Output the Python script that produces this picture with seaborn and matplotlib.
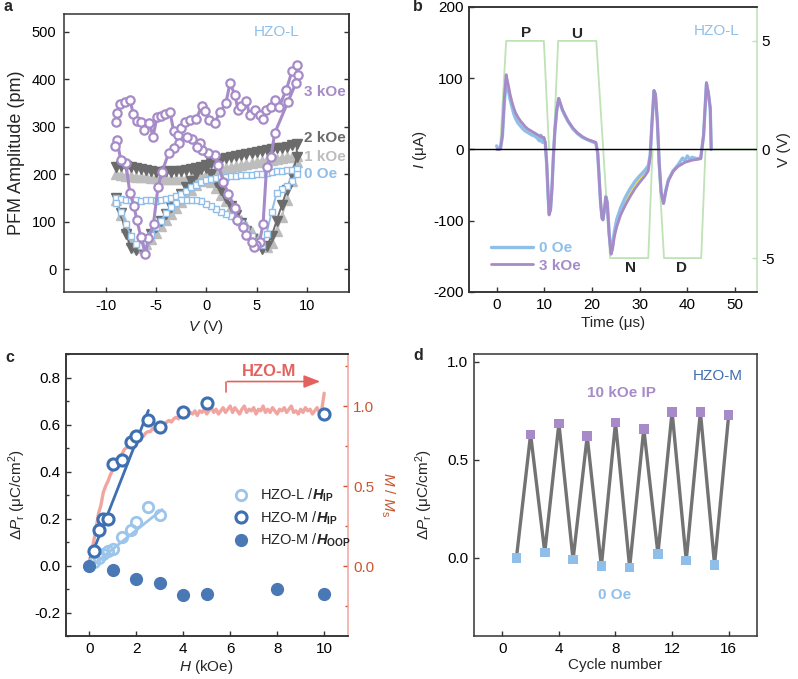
import numpy as np
import pandas as pd
import seaborn as sns
import matplotlib.pyplot as plt
from matplotlib.ticker import MultipleLocator

# ---------------- data: panel a (PFM butterfly loops, HZO-L) ----------------
v_grid = np.arange(-9, 9.01, 0.5)  # voltage sweep grid (V)

# 0 Oe (open squares): upper branch / lower branch, listed along v_grid
amp_0oe_up = [150, 147, 146, 145, 146, 144, 145, 146, 144, 146, 147, 150, 153, 158, 165, 172, 178, 183, 187,
              190, 192, 194, 194, 196, 196, 198, 198, 199, 200, 201, 203, 205, 206, 207, 208, 209, 210]
amp_0oe_low = [140, 120, 95, 70, 52, 48, 58, 72, 88, 102, 118, 130, 140, 145, 146, 146, 145, 143, 138,
               133, 127, 121, 116, 112, 106, 98, 84, 70, 58, 50, 75, 120, 160, 168, 175, 185, 200]
# 1 kOe (light gray triangles)
amp_1k_up = [200, 199, 197, 196, 195, 194, 193, 192, 191, 190, 190, 189, 189, 189, 190, 191, 193, 196, 199,
             203, 207, 210, 213, 215, 217, 219, 221, 223, 225, 227, 229, 230, 232, 233, 235, 236, 238]
amp_1k_low = [145, 115, 88, 62, 47, 44, 52, 64, 77, 90, 103, 116, 129, 142, 155, 166, 177, 186, 190,
              183, 170, 157, 143, 130, 117, 104, 91, 78, 65, 54, 47, 55, 80, 110, 145, 185, 225]
# 2 kOe (dark gray triangles)
amp_2k_up = [215, 218, 217, 214, 212, 210, 208, 206, 205, 205, 206, 205, 206, 207, 208, 210, 213, 216, 220,
             224, 228, 231, 234, 236, 238, 240, 242, 244, 246, 248, 250, 252, 254, 256, 258, 261, 264]
amp_2k_low = [150, 118, 75, 45, 40, 46, 60, 74, 88, 102, 116, 130, 144, 158, 172, 186, 200, 210, 212,
              200, 183, 166, 149, 132, 115, 98, 81, 64, 50, 43, 48, 70, 102, 134, 166, 198, 235]
# 3 kOe (open circles), in measuring order
v_3k = [-9.0, -8.9, -8.55, -8.05, -7.6, -7.25, -6.9, -6.45, -6.15, -5.65, -5.3, -4.9, -4.5, -4.1, -3.6,
        -3.25, -2.85, -2.5, -2.1, -1.6, -1.0, -0.45, -0.15, 0.3, 0.85, 1.35, 1.95, 2.35, 2.85, 3.15, 3.5,
        4.0, 4.3, 4.8, 5.3, 5.65, 5.95, 6.45, 6.85, 7.25, 7.95, 8.55, 9.05,
        9.1, 8.9, 8.1, 6.8, 6.45, 6.0, 5.65, 5.3, 4.95,
        4.75, 4.5, 4.0, 3.65, 3.05, 2.85, 2.2, 1.7, 1.2, 0.85, 0.2, -0.45, -0.65, -0.95, -1.4, -1.95,
        -2.75, -3.25, -3.75, -4.4, -4.8, -5.25, -5.75, -6.05,
        -6.5, -6.9, -7.2, -7.6, -8.0, -8.5, -8.9, -9.05]
amp_3k = [309, 328, 348, 351, 356, 326, 312, 309, 293, 308, 279, 320, 323, 326, 330,
          291, 282, 298, 309, 314, 316, 343, 333, 314, 308, 331, 349, 391, 367, 335, 343,
          353, 324, 335, 324, 317, 335, 342, 357, 342, 377, 418, 430,
          409, 391, 351, 286, 237, 216, 95, 58, 50,
          47, 58, 72, 89, 103, 128, 159, 184, 219, 240, 244, 251, 265, 258, 273, 279,
          265, 254, 244, 205, 173, 96, 65, 32,
          67, 103, 133, 160, 223, 230, 272, 260]

# ---------------- data: panel b (PUND currents) ----------------
t_us = [0, 0.4, 0.8, 1.2, 1.6, 2.0, 2.4, 2.8, 3.2, 3.6, 4.0, 4.5, 5.0, 5.5, 6.0, 6.5, 7.0, 7.5, 8.0, 8.5,
        9.0, 9.3, 9.6, 9.9, 10.2, 10.5, 10.8, 11.0, 11.3, 11.6, 11.9, 12.2, 12.6, 13.0, 13.4, 13.8, 14.3,
        15, 16, 17, 18, 19, 20, 20.8, 21.2, 21.5, 21.8, 22.1, 22.3, 22.6, 22.9, 23.2, 23.6, 24.0, 24.3,
        24.7, 25.2, 26, 27, 28, 29, 30, 31, 31.8, 32.2, 32.6, 33.0, 33.3, 33.7, 34.1, 34.5, 35.0, 35.5,
        36, 37, 38, 39, 39.5, 40, 40.5, 41, 42, 42.8, 43.4, 44.0, 44.4, 44.8, 45.0]
cur_3koe = [0, 0, 1, 20, 70, 105, 92, 78, 67, 58, 51, 45, 40, 36, 32, 29, 27, 25, 23, 21,
            19, 18, 17, 17, 10, -20, -65, -92, -85, -55, -10, 25, 55, 72, 64, 56, 49,
            40, 30, 23, 18, 14, 12, 10, -5, -40, -75, -97, -99, -85, -67, -75, -120, -147, -140,
            -122, -108, -92, -78, -66, -55, -46, -38, -30, -10, 40, 83, 78, 40, -20, -60, -76, -58,
            -44, -31, -24, -20, -18, -17, -16, -15, -14, -13, 20, 94, 80, 58, 0]
cur_0oe = [5, 0, 1, 18, 65, 97, 85, 71, 60, 50, 43, 37, 33, 29, 26, 24, 22, 20, 19, 16,
           12, 20, 10, 16, 8, -20, -65, -90, -84, -55, -10, 25, 55, 71, 63, 55, 48,
           39, 29, 22, 17, 14, 11, 9, -5, -40, -75, -96, -98, -84, -66, -74, -118, -145, -135,
           -115, -98, -82, -67, -55, -45, -37, -30, -23, -8, 40, 82, 77, 40, -20, -60, -75, -57,
           -43, -30, -22, -12, -16, -9, -14, -11, -13, -12, 20, 92, 79, 57, 0]
pund_t = [0, 0.7, 2.0, 9.9, 11.0, 11.9, 12.9, 20.9, 23.8, 31.8, 32.7, 33.8, 35.1, 42.9, 43.8, 55]
pund_v = [0, 0, 5, 5, 0, 0, 5, 5, -5, -5, 0, 0, -5, -5, 0, 0]

# ---------------- data: panel c ----------------
hl_h = [0.2, 0.4, 0.6, 0.8, 1.0, 1.4, 1.8, 2.0, 2.5, 3.0]
hl_dp = [0.015, 0.03, 0.05, 0.06, 0.07, 0.12, 0.15, 0.185, 0.25, 0.215]
hm_h = [0.2, 0.4, 0.6, 0.8, 1.0, 1.4, 1.8, 2.0, 2.5, 3.0, 4.0, 5.0, 10.0]
hm_dp = [0.06, 0.15, 0.20, 0.20, 0.43, 0.45, 0.525, 0.55, 0.62, 0.59, 0.655, 0.69, 0.645]
hoop_h = [0, 1, 2, 3, 4, 5, 8, 10]
hoop_dp = [0.0, -0.017, -0.057, -0.074, -0.126, -0.12, -0.099, -0.12]
hl_fit_h, hl_fit_dp = [0.25, 3.1], [0.01, 0.238]
hm_fit_h, hm_fit_dp = [0.05, 2.52], [0.03, 0.66]
ms_h = np.round(np.arange(0, 10.01, 0.1), 1)
ms_m = [0.03, 0.08, 0.16, 0.24, 0.33, 0.38, 0.46, 0.50, 0.53, 0.57, 0.60, 0.63, 0.66, 0.69, 0.70, 0.73,
        0.74, 0.76, 0.76, 0.78, 0.79, 0.80, 0.81, 0.81, 0.83, 0.84, 0.84, 0.86, 0.85, 0.87, 0.87, 0.89,
        0.88, 0.90, 0.91, 0.90, 0.92, 0.93, 0.92, 0.94, 0.93, 0.95, 0.94, 0.96, 0.95, 0.97, 0.94, 0.97,
        0.96, 0.98, 0.95, 0.97, 0.99, 0.96, 0.98, 0.95, 0.97, 0.99, 0.96, 0.98, 1.00, 0.96, 0.99, 0.97,
        0.95, 0.98, 1.00, 0.96, 0.98, 0.97, 0.99, 0.95, 0.98, 0.97, 1.00, 0.96, 0.98, 0.96, 0.99, 0.97,
        0.95, 0.98, 0.97, 0.99, 0.96, 0.98, 1.00, 0.96, 0.97, 0.95, 0.98, 0.96, 0.99, 0.97, 0.98, 0.95,
        0.97, 0.99, 0.96, 0.98, 1.08]

# ---------------- data: panel d ----------------
cycles = list(range(1, 17))
dp_cycle = [0.0, 0.63, 0.027, 0.685, -0.01, 0.62, -0.044, 0.69, -0.05, 0.658, 0.02, 0.745, -0.014, 0.745,
            -0.036, 0.728]
field_state = ['0 Oe', '10 kOe IP'] * 8

# ---------------- style ----------------
sns.set_style('ticks')
plt.rcParams['font.family'] = ['Liberation Sans', 'DejaVu Sans']
plt.rcParams['mathtext.fontset'] = 'custom'
plt.rcParams['mathtext.rm'] = 'Liberation Sans'
plt.rcParams['mathtext.it'] = 'Liberation Sans:italic'
plt.rcParams['mathtext.bf'] = 'Liberation Sans:bold'
plt.rcParams['mathtext.bfit'] = 'Liberation Sans:italic:bold'
plt.rcParams['axes.unicode_minus'] = False
plt.rcParams['font.size'] = 11
plt.rcParams['axes.linewidth'] = 1.1
plt.rcParams['axes.edgecolor'] = '#333333'
plt.rcParams['xtick.color'] = '#333333'
plt.rcParams['ytick.color'] = '#333333'
plt.rcParams['xtick.labelcolor'] = 'black'
plt.rcParams['ytick.labelcolor'] = 'black'

LBLUE = '#8fbfe9'
PURPLE = '#a68bc8'
DGRAY = '#6b6b6b'
LGRAY = '#bdbdbd'
DBLUE = '#3d6fb1'
GREEN = '#bfe2b6'
SALMON = '#f0a5a1'
RED = '#e3625d'
ORANGE = '#c9562e'
YELLOW = '#f4e63c'
GRAY = '#737373'

fig = plt.figure(figsize=(7.98, 6.79), dpi=100)

# ================= panel a =================
ax = fig.add_axes([0.0796, 0.570, 0.3578, 0.4094])
loop_v = np.r_[v_grid, v_grid[::-1]]
for up, low, col, mk, ms, mfc in [
    (amp_1k_up, amp_1k_low, LGRAY, '^', 7, LGRAY),
    (amp_2k_up, amp_2k_low, DGRAY, 'v', 7, DGRAY),
    (amp_0oe_up, amp_0oe_low, LBLUE, 's', 4.6, 'white'),
]:
    sns.lineplot(x=loop_v, y=np.r_[up, low[::-1]], ax=ax, sort=False, estimator=None,
                 color=col, lw=1.4, marker=mk, markersize=ms, markerfacecolor=mfc,
                 mec=col, mew=1.0)
sns.lineplot(x=v_3k, y=amp_3k, ax=ax, sort=False, estimator=None, color=PURPLE, lw=2.2,
             marker='o', markersize=6, markerfacecolor='white', mec=PURPLE, mew=1.6)
ax.set_xlim(-14.2, 14.2)
ax.set_ylim(-48, 537)
ax.set_xticks([-10, -5, 0, 5, 10])
ax.set_yticks(range(0, 501, 100))
ax.tick_params(direction='in', length=3.5, width=1, labelsize=10.5, pad=5)
sec = ax.secondary_yaxis('right')
sec.set_yticks(range(0, 501, 100))
sec.tick_params(direction='in', length=3.5, width=1, labelright=False)
ax.set_xlabel('$V$ (V)', fontsize=11, labelpad=4)
ax.set_ylabel('PFM Amplitude (pm)', fontsize=13, labelpad=5)
ax.text(7.0, 500, 'HZO-L', color=LBLUE, fontsize=11, ha='center', va='center')
for txt, yy, col in [('3 kOe', 373, PURPLE), ('2 kOe', 277, DGRAY),
                     ('1 kOe', 237, LGRAY), ('0 Oe', 200, LBLUE)]:
    ax.text(9.7, yy, txt, color=col, fontsize=11, fontweight='bold', ha='left', va='center')

# ================= panel b =================
axb = fig.add_axes([0.5877, 0.570, 0.3609, 0.4197])
axv = axb.twinx()
axv.plot(pund_t, pund_v, color=GREEN, lw=1.3)
axv.set_ylim(-6.56, 6.56)
axv.set_yticks([-5, 0, 5])
axv.tick_params(axis='y', direction='in', length=3.5, width=1, color=GREEN, pad=3)
axv.spines['right'].set_color(GREEN)
axv.set_ylabel('V (V)', labelpad=2)
axb.set_zorder(axv.get_zorder() + 1)
axb.patch.set_visible(False)
axb.spines['right'].set_visible(False)

pund = pd.DataFrame({'t': t_us, '0 Oe': cur_0oe, '3 kOe': cur_3koe})
t_arr = np.array(t_us)
diff_zone = ((t_arr >= 3.5) & (t_arr <= 9.6)) | ((t_arr >= 24.5) & (t_arr <= 31.9))
axb.fill_between(t_arr, cur_0oe, cur_3koe, where=diff_zone, color=YELLOW, lw=0, interpolate=True)
sns.lineplot(data=pund, x='t', y='0 Oe', ax=axb, color=LBLUE, lw=2.4, label='0 Oe',
             sort=False, estimator=None)
sns.lineplot(data=pund, x='t', y='3 kOe', ax=axb, color=PURPLE, lw=2.0, label='3 kOe',
             sort=False, estimator=None)
axb.axhline(0, color='black', lw=1.0)
axb.set_xlim(-5.8, 54.6)
axb.set_ylim(-200, 200)
axb.set_xticks(range(0, 51, 10))
axb.set_yticks(range(-200, 201, 100))
axb.tick_params(direction='in', length=3.5, width=1, pad=4)
axb.set_xlabel('Time (μs)', labelpad=3)
axb.set_ylabel('$I$ (μA)', labelpad=3)
axb.legend(loc='lower left', bbox_to_anchor=(0.03, 0.02), frameon=False, handlelength=2.7,
           handletextpad=0.4, labelspacing=0.2, prop={'weight': 'bold', 'size': 11},
           labelcolor='linecolor')
for txt, tx, iy in [('P', 6.15, 164), ('U', 16.8, 162), ('N', 28.1, -167), ('D', 38.8, -167)]:
    axb.text(tx, iy, txt, fontsize=11, fontweight='bold', ha='center', va='center')
axb.text(46.2, 166, 'HZO-L', color=LBLUE, fontsize=11, ha='center', va='center')

# ================= panel c =================
axc = fig.add_axes([0.0823, 0.0633, 0.3534, 0.4153])
axm = axc.twinx()
sns.lineplot(x=ms_h, y=ms_m, ax=axm, color=SALMON, lw=2.4, sort=False, estimator=None)
axm.set_ylim(-0.4375, 1.325)
axm.set_yticks([0.0, 0.5, 1.0])
axm.yaxis.set_minor_locator(MultipleLocator(0.25))
axm.tick_params(axis='y', which='both', direction='in', color=ORANGE, labelcolor=ORANGE, width=1, pad=4)
axm.tick_params(axis='y', which='major', length=3.5)
axm.tick_params(axis='y', which='minor', length=2)
axm.spines['right'].set_color(SALMON)
axm.set_ylabel('$M$ / $M_\\mathrm{s}$', color=ORANGE, rotation=270, va='bottom', labelpad=3)
axc.set_zorder(axm.get_zorder() + 1)
axc.patch.set_visible(False)
axc.spines['right'].set_visible(False)

sns.lineplot(x=hl_fit_h, y=hl_fit_dp, ax=axc, color='#9cc5ec', lw=2.0)
sns.lineplot(x=hm_fit_h, y=hm_fit_dp, ax=axc, color=DBLUE, lw=2.0)
sns.lineplot(x=hl_h, y=hl_dp, ax=axc, sort=False, estimator=None, ls='none', marker='o',
             markersize=7.5, markerfacecolor='none', mec='#9cc5ec', mew=2.0,
             label='HZO-L /$\\mathbfit{H}_{\\mathbf{IP}}$')
sns.lineplot(x=hm_h, y=hm_dp, ax=axc, sort=False, estimator=None, ls='none', marker='o',
             markersize=8, markerfacecolor='white', mec=DBLUE, mew=2.2,
             label='HZO-M /$\\mathbfit{H}_{\\mathbf{IP}}$')
sns.lineplot(x=hoop_h, y=hoop_dp, ax=axc, sort=False, estimator=None, ls='none', marker='o',
             markersize=8.5, markerfacecolor='#4a78b5', mec='#4a78b5', mew=1.0,
             label='HZO-M /$\\mathbfit{H}_{\\mathbf{OOP}}$')
axc.set_xlim(-1, 11)
axc.set_ylim(-0.3, 0.9)
axc.set_xticks(range(0, 11, 2))
axc.set_yticks([-0.2, 0.0, 0.2, 0.4, 0.6, 0.8])
axc.yaxis.set_minor_locator(MultipleLocator(0.1))
axc.tick_params(which='both', direction='in', width=1, pad=4)
axc.tick_params(which='major', length=3.5)
axc.tick_params(which='minor', length=2)
axc.set_xlabel('$H$ (kOe)', labelpad=2)
axc.set_ylabel('$\\Delta P_\\mathrm{r}$ (μC/cm$^2$)', labelpad=4)
axc.legend(loc='upper left', bbox_to_anchor=(0.55, 0.575), frameon=False, handlelength=1.0,
           handletextpad=0.8, labelspacing=0.35, fontsize=10.5)
axc.plot([5.83, 5.83], [0.74, 0.783], color=RED, lw=1.2)
axc.annotate('', xy=(9.95, 0.783), xytext=(5.77, 0.783),
             arrowprops=dict(arrowstyle='-|>,head_length=0.9,head_width=0.35', color=RED, lw=1.2))
axc.text(7.64, 0.825, 'HZO-M', color=RED, fontsize=12, fontweight='bold', ha='center', va='center')

# ================= panel d =================
axd = fig.add_axes([0.594, 0.0633, 0.3546, 0.4153])
cyc = pd.DataFrame({'cycle': cycles, 'dp': dp_cycle, 'field': field_state})
sns.lineplot(data=cyc, x='cycle', y='dp', ax=axd, color=GRAY, lw=2.4, sort=False, estimator=None)
sns.scatterplot(data=cyc, x='cycle', y='dp', hue='field', ax=axd, marker='s', s=48,
                palette={'0 Oe': LBLUE, '10 kOe IP': PURPLE}, edgecolor='none', legend=False, zorder=3)
axd.set_xlim(-2, 18)
axd.set_ylim(-0.4, 1.04)
axd.set_xticks([0, 4, 8, 12, 16])
axd.set_yticks([0.0, 0.5, 1.0])
axd.tick_params(direction='in', length=3.5, width=1, pad=4)
axd.set_xlabel('Cycle number', labelpad=2)
axd.set_ylabel('$\\Delta P_\\mathrm{r}$ (μC/cm$^2$)', labelpad=9)
axd.text(8.44, 0.84, '10 kOe IP', color=PURPLE, fontsize=11, fontweight='bold', ha='center', va='center')
axd.text(7.96, -0.19, '0 Oe', color=LBLUE, fontsize=11, fontweight='bold', ha='center', va='center')
axd.text(15.2, 0.93, 'HZO-M', color=DBLUE, fontsize=11, ha='center', va='center')

for lab, xx, yy in [('a', 0.010, 0.990), ('b', 0.524, 0.990), ('c', 0.0125, 0.474), ('d', 0.524, 0.476)]:
    fig.text(xx, yy, lab, fontsize=11.5, fontweight='bold', ha='center', va='center')

fig.savefig('out.png', dpi=100)
